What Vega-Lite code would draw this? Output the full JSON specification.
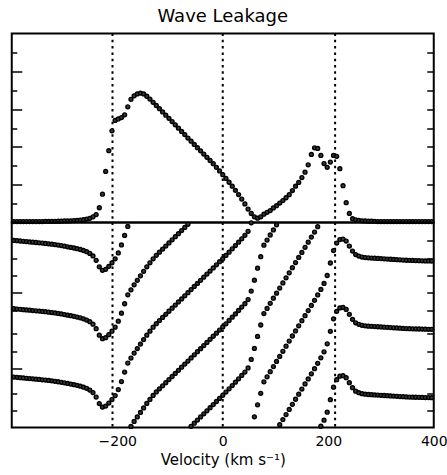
{
  "$schema": "https://vega.github.io/schema/vega-lite/v6.json",
  "padding": {"left": 7.75, "top": 7.5, "right": 0, "bottom": 0},
  "title": {"text": "Wave Leakage", "font": "DejaVu Sans", "fontSize": 18, "fontWeight": "normal", "color": "black", "offset": 5.6, "anchor": "middle", "frame": "group"},
  "config": {"view": {"stroke": "black", "strokeWidth": 2}, "font": "DejaVu Sans"},
  "spacing": 0,
  "bounds": "flush",
  "datasets": {
    "vl": [{"v": -209}, {"v": 0}, {"v": 213}],
    "top": [
      {"v":-396,"i":0.05},{"v":-390,"i":0.05},{"v":-384,"i":0.05},{"v":-378,"i":0.05},{"v":-372,"i":0.05},{"v":-366,"i":0.05},{"v":-360,"i":0.05},{"v":-354,"i":0.05},{"v":-348,"i":0.05},{"v":-342,"i":0.05},
      {"v":-336,"i":0.06},{"v":-330,"i":0.06},{"v":-324,"i":0.06},{"v":-318,"i":0.06},{"v":-312,"i":0.07},{"v":-306,"i":0.07},{"v":-300,"i":0.08},{"v":-294,"i":0.08},{"v":-288,"i":0.09},{"v":-282,"i":0.1},
      {"v":-276,"i":0.11},{"v":-270,"i":0.13},{"v":-264,"i":0.15},{"v":-258,"i":0.18},{"v":-252,"i":0.22},{"v":-246,"i":0.3},{"v":-240,"i":0.42},{"v":-234,"i":0.78},{"v":-228,"i":1.5},{"v":-222,"i":2.7},
      {"v":-216,"i":3.8},{"v":-210,"i":4.85},{"v":-204,"i":5.4},{"v":-198,"i":5.48},{"v":-192,"i":5.55},{"v":-186,"i":5.7},{"v":-180,"i":6.12},{"v":-174,"i":6.52},{"v":-168,"i":6.7},{"v":-162,"i":6.8},
      {"v":-156,"i":6.85},{"v":-150,"i":6.8},{"v":-144,"i":6.68},{"v":-138,"i":6.53},{"v":-132,"i":6.36},{"v":-126,"i":6.19},{"v":-120,"i":6.02},{"v":-114,"i":5.85},{"v":-108,"i":5.68},{"v":-102,"i":5.51},
      {"v":-96,"i":5.34},{"v":-90,"i":5.17},{"v":-84,"i":4.99},{"v":-78,"i":4.82},{"v":-72,"i":4.65},{"v":-66,"i":4.47},{"v":-60,"i":4.3},{"v":-54,"i":4.13},{"v":-48,"i":3.96},{"v":-42,"i":3.79},
      {"v":-36,"i":3.62},{"v":-30,"i":3.45},{"v":-24,"i":3.28},{"v":-18,"i":3.11},{"v":-12,"i":2.92},{"v":-6,"i":2.73},{"v":0,"i":2.53},{"v":6,"i":2.33},{"v":12,"i":2.13},{"v":18,"i":1.92},
      {"v":24,"i":1.7},{"v":30,"i":1.48},{"v":36,"i":1.24},{"v":42,"i":0.98},{"v":48,"i":0.71},{"v":54,"i":0.48},{"v":60,"i":0.3},{"v":66,"i":0.23},{"v":72,"i":0.3},{"v":78,"i":0.44},
      {"v":84,"i":0.54},{"v":90,"i":0.63},{"v":96,"i":0.77},{"v":102,"i":0.89},{"v":108,"i":1.03},{"v":114,"i":1.16},{"v":120,"i":1.31},{"v":126,"i":1.47},{"v":132,"i":1.69},{"v":138,"i":1.92},
      {"v":144,"i":2.12},{"v":150,"i":2.38},{"v":156,"i":2.66},{"v":162,"i":3.05},{"v":168,"i":3.6},{"v":174,"i":3.95},{"v":180,"i":3.92},{"v":186,"i":3.55},{"v":192,"i":3.12},{"v":198,"i":2.92},
      {"v":204,"i":3.2},{"v":210,"i":3.55},{"v":216,"i":3.5},{"v":222,"i":2.85},{"v":228,"i":1.95},{"v":234,"i":1.05},{"v":240,"i":0.48},{"v":246,"i":0.2},{"v":252,"i":0.14},{"v":258,"i":0.11},
      {"v":264,"i":0.09},{"v":270,"i":0.08},{"v":276,"i":0.07},{"v":282,"i":0.07},{"v":288,"i":0.06},{"v":294,"i":0.05},{"v":300,"i":0.05},{"v":306,"i":0.05},{"v":312,"i":0.05},{"v":318,"i":0.05},
      {"v":324,"i":0.05},{"v":330,"i":0.05},{"v":336,"i":0.05},{"v":342,"i":0.05},{"v":348,"i":0.05},{"v":354,"i":0.05},{"v":360,"i":0.05},{"v":366,"i":0.05},{"v":372,"i":0.05},{"v":378,"i":0.05},
      {"v":384,"i":0.05},{"v":390,"i":0.05},{"v":396,"i":0.05}
    ],
    "bot": [
      {"v":-396,"p":265.7},{"v":-396,"p":625.7},{"v":-396,"p":985.7},
      {"v":-390,"p":264.1},{"v":-390,"p":624.1},{"v":-390,"p":984.1},
      {"v":-384,"p":262.5},{"v":-384,"p":622.5},{"v":-384,"p":982.5},
      {"v":-378,"p":260.9},{"v":-378,"p":620.9},{"v":-378,"p":980.9},
      {"v":-372,"p":259.4},{"v":-372,"p":619.4},{"v":-372,"p":979.4},
      {"v":-366,"p":257.8},{"v":-366,"p":617.8},{"v":-366,"p":977.8},
      {"v":-360,"p":256.2},{"v":-360,"p":616.2},{"v":-360,"p":976.2},
      {"v":-354,"p":254.6},{"v":-354,"p":614.6},{"v":-354,"p":974.6},
      {"v":-348,"p":253.1},{"v":-348,"p":613.1},{"v":-348,"p":973.1},
      {"v":-342,"p":251.5},{"v":-342,"p":611.5},{"v":-342,"p":971.5},
      {"v":-336,"p":249.9},{"v":-336,"p":609.9},{"v":-336,"p":969.9},
      {"v":-330,"p":247.8},{"v":-330,"p":607.8},{"v":-330,"p":967.8},
      {"v":-324,"p":245.7},{"v":-324,"p":605.7},{"v":-324,"p":965.7},
      {"v":-318,"p":243.6},{"v":-318,"p":603.6},{"v":-318,"p":963.6},
      {"v":-312,"p":241.0},{"v":-312,"p":601.0},{"v":-312,"p":961.0},
      {"v":-306,"p":238.3},{"v":-306,"p":598.3},{"v":-306,"p":958.3},
      {"v":-300,"p":235.2},{"v":-300,"p":595.2},{"v":-300,"p":955.2},
      {"v":-294,"p":232.0},{"v":-294,"p":592.0},{"v":-294,"p":952.0},
      {"v":-288,"p":228.9},{"v":-288,"p":588.9},{"v":-288,"p":948.9},
      {"v":-282,"p":225.7},{"v":-282,"p":585.7},{"v":-282,"p":945.7},
      {"v":-276,"p":222.0},{"v":-276,"p":582.0},{"v":-276,"p":942.0},
      {"v":-270,"p":217.8},{"v":-270,"p":577.8},{"v":-270,"p":937.8},
      {"v":-264,"p":212.5},{"v":-264,"p":572.5},{"v":-264,"p":932.5},
      {"v":-258,"p":206.2},{"v":-258,"p":566.2},{"v":-258,"p":926.2},
      {"v":-252,"p":197.3},{"v":-252,"p":557.3},{"v":-252,"p":917.3},
      {"v":-246,"p":184.1},{"v":-246,"p":544.1},{"v":-246,"p":904.1},
      {"v":-240,"p":160.5},{"v":-240,"p":520.5},{"v":-240,"p":880.5},
      {"v":-234,"p":126.3},{"v":-234,"p":486.3},{"v":-234,"p":846.3},
      {"v":-228,"p":107.9},{"v":-228,"p":467.9},{"v":-228,"p":827.9},
      {"v":-222,"p":113.1},{"v":-222,"p":473.1},{"v":-222,"p":833.1},
      {"v":-216,"p":128.9},{"v":-216,"p":488.9},{"v":-216,"p":848.9},
      {"v":-210,"p":147.3},{"v":-210,"p":507.3},{"v":-210,"p":867.3},
      {"v":-204,"p":168.4},{"v":-204,"p":528.4},{"v":-204,"p":888.4},
      {"v":-198,"p":199.9},{"v":-198,"p":559.9},{"v":-198,"p":919.9},
      {"v":-192,"p":242.0},{"v":-192,"p":602.0},{"v":-192,"p":962.0},
      {"v":-186,"p":292.0},{"v":-186,"p":652.0},{"v":-186,"p":1012.0},
      {"v":-180,"p":339.3},{"v":-180,"p":699.3},{"v":-180,"p":1059.3},
      {"v":-174,"p":5.6},{"v":-174,"p":365.6},{"v":-174,"p":725.6},
      {"v":-168,"p":31.9},{"v":-168,"p":391.9},{"v":-168,"p":751.9},
      {"v":-162,"p":55.6},{"v":-162,"p":415.6},{"v":-162,"p":775.6},
      {"v":-156,"p":79.3},{"v":-156,"p":439.3},{"v":-156,"p":799.3},
      {"v":-150,"p":103.0},{"v":-150,"p":463.0},{"v":-150,"p":823.0},
      {"v":-144,"p":126.6},{"v":-144,"p":486.6},{"v":-144,"p":846.6},
      {"v":-138,"p":147.7},{"v":-138,"p":507.7},{"v":-138,"p":867.7},
      {"v":-132,"p":168.7},{"v":-132,"p":528.7},{"v":-132,"p":888.7},
      {"v":-126,"p":187.1},{"v":-126,"p":547.1},{"v":-126,"p":907.1},
      {"v":-120,"p":203.5},{"v":-120,"p":563.5},{"v":-120,"p":923.5},
      {"v":-114,"p":219.8},{"v":-114,"p":579.8},{"v":-114,"p":939.8},
      {"v":-108,"p":236.1},{"v":-108,"p":596.1},{"v":-108,"p":956.1},
      {"v":-102,"p":252.4},{"v":-102,"p":612.4},{"v":-102,"p":972.4},
      {"v":-96,"p":268.7},{"v":-96,"p":628.7},{"v":-96,"p":988.7},
      {"v":-90,"p":285.0},{"v":-90,"p":645.0},{"v":-90,"p":1005.0},
      {"v":-84,"p":301.3},{"v":-84,"p":661.3},{"v":-84,"p":1021.3},
      {"v":-78,"p":317.6},{"v":-78,"p":677.6},{"v":-78,"p":1037.6},
      {"v":-72,"p":333.9},{"v":-72,"p":693.9},{"v":-72,"p":1053.9},
      {"v":-66,"p":350.2},{"v":-66,"p":710.2},{"v":-66,"p":1070.2},
      {"v":-60,"p":6.5},{"v":-60,"p":366.5},{"v":-60,"p":726.5},
      {"v":-54,"p":22.9},{"v":-54,"p":382.9},{"v":-54,"p":742.9},
      {"v":-48,"p":39.2},{"v":-48,"p":399.2},{"v":-48,"p":759.2},
      {"v":-42,"p":55.5},{"v":-42,"p":415.5},{"v":-42,"p":775.5},
      {"v":-36,"p":71.8},{"v":-36,"p":431.8},{"v":-36,"p":791.8},
      {"v":-30,"p":88.1},{"v":-30,"p":448.1},{"v":-30,"p":808.1},
      {"v":-24,"p":104.4},{"v":-24,"p":464.4},{"v":-24,"p":824.4},
      {"v":-18,"p":120.7},{"v":-18,"p":480.7},{"v":-18,"p":840.7},
      {"v":-12,"p":137.0},{"v":-12,"p":497.0},{"v":-12,"p":857.0},
      {"v":-6,"p":153.3},{"v":-6,"p":513.3},{"v":-6,"p":873.3},
      {"v":0,"p":169.6},{"v":0,"p":529.6},{"v":0,"p":889.6},
      {"v":6,"p":186.5},{"v":6,"p":546.5},{"v":6,"p":906.5},
      {"v":12,"p":203.8},{"v":12,"p":563.8},{"v":12,"p":923.8},
      {"v":18,"p":221.2},{"v":18,"p":581.2},{"v":18,"p":941.2},
      {"v":24,"p":238.6},{"v":24,"p":598.6},{"v":24,"p":958.6},
      {"v":30,"p":256.4},{"v":30,"p":616.4},{"v":30,"p":976.4},
      {"v":36,"p":274.3},{"v":36,"p":634.3},{"v":36,"p":994.3},
      {"v":42,"p":292.2},{"v":42,"p":652.2},{"v":42,"p":1012.2},
      {"v":48,"p":313.8},{"v":48,"p":673.8},{"v":48,"p":1033.8},
      {"v":54,"p":358.5},{"v":54,"p":718.5},{"v":54,"p":1078.5},
      {"v":60,"p":56.4},{"v":60,"p":416.4},{"v":60,"p":776.4},
      {"v":66,"p":119.5},{"v":66,"p":479.5},{"v":66,"p":839.5},
      {"v":72,"p":180.0},{"v":72,"p":540.0},{"v":72,"p":900.0},
      {"v":78,"p":240.5},{"v":78,"p":600.5},{"v":78,"p":960.5},
      {"v":84,"p":267.3},{"v":84,"p":627.3},{"v":84,"p":987.3},
      {"v":90,"p":294.2},{"v":90,"p":654.2},{"v":90,"p":1014.2},
      {"v":96,"p":321.0},{"v":96,"p":681.0},{"v":96,"p":1041.0},
      {"v":102,"p":347.8},{"v":102,"p":707.8},{"v":102,"p":1067.8},
      {"v":108,"p":14.7},{"v":108,"p":374.7},{"v":108,"p":734.7},
      {"v":114,"p":41.5},{"v":114,"p":401.5},{"v":114,"p":761.5},
      {"v":120,"p":68.3},{"v":120,"p":428.3},{"v":120,"p":788.3},
      {"v":126,"p":95.2},{"v":126,"p":455.2},{"v":126,"p":815.2},
      {"v":132,"p":122.0},{"v":132,"p":482.0},{"v":132,"p":842.0},
      {"v":138,"p":148.8},{"v":138,"p":508.8},{"v":138,"p":868.8},
      {"v":144,"p":175.7},{"v":144,"p":535.7},{"v":144,"p":895.7},
      {"v":150,"p":202.5},{"v":150,"p":562.5},{"v":150,"p":922.5},
      {"v":156,"p":229.3},{"v":156,"p":589.3},{"v":156,"p":949.3},
      {"v":162,"p":256.1},{"v":162,"p":616.1},{"v":162,"p":976.1},
      {"v":168,"p":283.0},{"v":168,"p":643.0},{"v":168,"p":1003.0},
      {"v":174,"p":309.8},{"v":174,"p":669.8},{"v":174,"p":1029.8},
      {"v":180,"p":338.2},{"v":180,"p":698.2},{"v":180,"p":1058.2},
      {"v":186,"p":7.2},{"v":186,"p":367.2},{"v":186,"p":727.2},
      {"v":192,"p":38.7},{"v":192,"p":398.7},{"v":192,"p":758.7},
      {"v":198,"p":80.8},{"v":198,"p":440.8},{"v":198,"p":800.8},
      {"v":204,"p":146.6},{"v":204,"p":506.6},{"v":204,"p":866.6},
      {"v":210,"p":212.3},{"v":210,"p":572.3},{"v":210,"p":932.3},
      {"v":216,"p":251.8},{"v":216,"p":611.8},{"v":216,"p":971.8},
      {"v":222,"p":270.2},{"v":222,"p":630.2},{"v":222,"p":990.2},
      {"v":228,"p":272.8},{"v":228,"p":632.8},{"v":228,"p":992.8},
      {"v":234,"p":262.3},{"v":234,"p":622.3},{"v":234,"p":982.3},
      {"v":240,"p":236.0},{"v":240,"p":596.0},{"v":240,"p":956.0},
      {"v":246,"p":209.7},{"v":246,"p":569.7},{"v":246,"p":929.7},
      {"v":252,"p":191.3},{"v":252,"p":551.3},{"v":252,"p":911.3},
      {"v":258,"p":183.4},{"v":258,"p":543.4},{"v":258,"p":903.4},
      {"v":264,"p":178.1},{"v":264,"p":538.1},{"v":264,"p":898.1},
      {"v":270,"p":175.5},{"v":270,"p":535.5},{"v":270,"p":895.5},
      {"v":276,"p":173.9},{"v":276,"p":533.9},{"v":276,"p":893.9},
      {"v":282,"p":172.9},{"v":282,"p":532.9},{"v":282,"p":892.9},
      {"v":288,"p":171.8},{"v":288,"p":531.8},{"v":288,"p":891.8},
      {"v":294,"p":170.8},{"v":294,"p":530.8},{"v":294,"p":890.8},
      {"v":300,"p":169.7},{"v":300,"p":529.7},{"v":300,"p":889.7},
      {"v":306,"p":168.6},{"v":306,"p":528.6},{"v":306,"p":888.6},
      {"v":312,"p":167.5},{"v":312,"p":527.5},{"v":312,"p":887.5},
      {"v":318,"p":166.4},{"v":318,"p":526.4},{"v":318,"p":886.4},
      {"v":324,"p":165.3},{"v":324,"p":525.3},{"v":324,"p":885.3},
      {"v":330,"p":164.3},{"v":330,"p":524.3},{"v":330,"p":884.3},
      {"v":336,"p":163.2},{"v":336,"p":523.2},{"v":336,"p":883.2},
      {"v":342,"p":162.1},{"v":342,"p":522.1},{"v":342,"p":882.1},
      {"v":348,"p":161.1},{"v":348,"p":521.1},{"v":348,"p":881.1},
      {"v":354,"p":160.5},{"v":354,"p":520.5},{"v":354,"p":880.5},
      {"v":360,"p":160.0},{"v":360,"p":520.0},{"v":360,"p":880.0},
      {"v":366,"p":159.4},{"v":366,"p":519.4},{"v":366,"p":879.4},
      {"v":372,"p":158.9},{"v":372,"p":518.9},{"v":372,"p":878.9},
      {"v":378,"p":158.3},{"v":378,"p":518.3},{"v":378,"p":878.3},
      {"v":384,"p":157.8},{"v":384,"p":517.8},{"v":384,"p":877.8},
      {"v":390,"p":157.5},{"v":390,"p":517.5},{"v":390,"p":877.5},
      {"v":396,"p":157.1},{"v":396,"p":517.1},{"v":396,"p":877.1}
    ]
  },
  "vconcat": [
    {
      "width": 422,
      "height": 189,
      "layer": [
        {
          "data": {"name": "vl"},
          "mark": {"type": "rule", "color": "black", "strokeWidth": 2, "strokeDash": [2.5, 3.8]},
          "encoding": {"x": {"field": "v", "type": "quantitative", "scale": {"domain": [-400, 400], "nice": false}, "axis": null}}
        },
        {
          "data": {"name": "top"},
          "mark": {"type": "point", "shape": "circle", "filled": true, "fill": "#3a3a3a", "stroke": "black", "strokeWidth": 1.4, "size": 15, "opacity": 1},
          "encoding": {
            "x": {"field": "v", "type": "quantitative", "scale": {"domain": [-400, 400], "nice": false}, "axis": null},
            "y": {"field": "i", "type": "quantitative", "scale": {"domain": [0, 10], "nice": false},
                  "axis": {"orient": "left", "values": [1, 2, 3, 4, 5, 6, 7, 8, 9], "labels": false, "domain": false, "grid": false, "title": null, "ticks": true, "tickColor": "black", "tickWidth": 1.5,
                           "tickSize": {"condition": {"test": "datum.value % 2 === 0", "value": -10}, "value": -5}}}
          }
        },
        {
          "data": {"name": "top"},
          "mark": {"type": "point", "opacity": 0},
          "encoding": {
            "x": {"field": "v", "type": "quantitative", "scale": {"domain": [-400, 400], "nice": false}, "axis": null},
            "y": {"field": "i", "type": "quantitative", "scale": {"domain": [0, 10], "nice": false},
                  "axis": {"orient": "right", "values": [1, 2, 3, 4, 5, 6, 7, 8, 9], "labels": false, "domain": false, "grid": false, "title": null, "ticks": true, "tickColor": "black", "tickWidth": 1.5, "tickSize": -7}}
          }
        }
      ],
      "resolve": {"axis": {"y": "independent"}}
    },
    {
      "width": 422,
      "height": 205,
      "layer": [
        {
          "data": {"name": "vl"},
          "mark": {"type": "rule", "color": "black", "strokeWidth": 2, "strokeDash": [2.5, 3.8]},
          "encoding": {"x": {"field": "v", "type": "quantitative", "scale": {"domain": [-400, 400], "nice": false},
                             "axis": {"values": [-200, 0, 200, 400], "ticks": false, "domain": false, "grid": false, "labelFlush": false, "labelFont": "DejaVu Sans", "labelFontSize": 14, "labelColor": "black", "labelPadding": 7, "title": "Velocity (km s⁻¹)", "titleFont": "DejaVu Sans", "titleFontSize": 15, "titleFontWeight": "normal", "titleColor": "black", "titlePadding": 4}}}
        },
        {
          "data": {"name": "bot"},
          "mark": {"type": "point", "shape": "circle", "filled": true, "fill": "#3a3a3a", "stroke": "black", "strokeWidth": 1.4, "size": 15, "opacity": 1},
          "encoding": {
            "x": {"field": "v", "type": "quantitative", "scale": {"domain": [-400, 400], "nice": false},
                  "axis": {"values": [-200, 0, 200, 400], "ticks": false, "domain": false, "grid": false, "labelFlush": false, "labelFont": "DejaVu Sans", "labelFontSize": 14, "labelColor": "black", "labelPadding": 7, "title": "Velocity (km s⁻¹)", "titleFont": "DejaVu Sans", "titleFontSize": 15, "titleFontWeight": "normal", "titleColor": "black", "titlePadding": 4}},
            "y": {"field": "p", "type": "quantitative", "scale": {"domain": [0, 1080], "nice": false},
                  "axis": {"orient": "left", "values": [89, 181, 309, 400, 493, 616, 709, 800, 891, 984], "labels": false, "domain": false, "grid": false, "title": null, "ticks": true, "tickColor": "black", "tickWidth": 1.5,
                           "tickSize": {"condition": {"test": "datum.value === 309 || datum.value === 709", "value": -10}, "value": -5}}}
          }
        },
        {
          "data": {"name": "bot"},
          "mark": {"type": "point", "opacity": 0},
          "encoding": {
            "x": {"field": "v", "type": "quantitative", "scale": {"domain": [-400, 400], "nice": false},
                  "axis": {"values": [-200, 0, 200, 400], "ticks": false, "domain": false, "grid": false, "labelFlush": false, "labelFont": "DejaVu Sans", "labelFontSize": 14, "labelColor": "black", "labelPadding": 7, "title": "Velocity (km s⁻¹)", "titleFont": "DejaVu Sans", "titleFontSize": 15, "titleFontWeight": "normal", "titleColor": "black", "titlePadding": 4}},
            "y": {"field": "p", "type": "quantitative", "scale": {"domain": [0, 1080], "nice": false},
                  "axis": {"orient": "right", "values": [89, 181, 309, 400, 493, 616, 709, 800, 891, 984], "labels": false, "domain": false, "grid": false, "title": null, "ticks": true, "tickColor": "black", "tickWidth": 1.5, "tickSize": -7}}
          }
        }
      ],
      "resolve": {"axis": {"y": "independent"}}
    }
  ]
}
